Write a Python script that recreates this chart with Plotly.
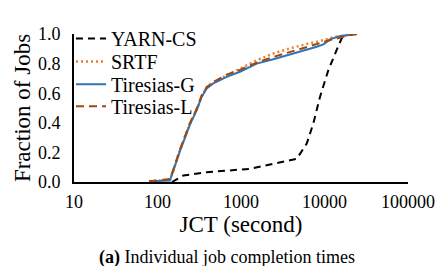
import plotly.graph_objects as go

# ---- data ----
yarn_x = [149, 204, 388, 1282, 2438, 4645, 6124, 7345, 8830, 11120, 14000, 16070, 17600]
yarn_y = [0.0, 0.044, 0.066, 0.089, 0.123, 0.157, 0.259, 0.395, 0.575, 0.756, 0.892, 0.971, 0.995]

srtf_x = [79, 141, 155, 186, 245, 295, 338, 388, 466, 674, 973, 1541, 2438, 3864, 6124, 9690, 13000, 17000, 24300]
srtf_y = [0.005, 0.015, 0.08, 0.215, 0.395, 0.49, 0.58, 0.64, 0.675, 0.722, 0.765, 0.822, 0.868, 0.903, 0.932, 0.958, 0.98, 0.99, 1.0]

tg_x = [88, 141, 155, 186, 245, 295, 338, 388, 466, 674, 973, 1541, 2438, 3864, 5094, 8070, 9690, 11640, 15350, 24300]
tg_y = [0.005, 0.01, 0.078, 0.21, 0.39, 0.485, 0.575, 0.632, 0.666, 0.71, 0.745, 0.80, 0.83, 0.862, 0.88, 0.914, 0.93, 0.964, 0.986, 1.0]

tl_x = [79, 100, 141, 155, 186, 245, 295, 338, 388, 466, 674, 973, 1541, 2438, 3864, 6124, 9690, 12500, 15350, 19000, 24300]
tl_y = [0.005, 0.01, 0.02, 0.085, 0.22, 0.40, 0.495, 0.585, 0.64, 0.675, 0.725, 0.758, 0.806, 0.845, 0.88, 0.914, 0.948, 0.964, 0.975, 0.99, 1.0]

x_ticks = [10, 100, 1000, 10000, 100000]
x_tick_labels = ["10", "100", "1000", "10000", "100000"]
y_ticks = [0, 0.2, 0.4, 0.6, 0.8, 1.0]
y_tick_labels = ["0.0", "0.2", "0.4", "0.6", "0.8", "1.0"]

FONT = "Liberation Serif, Times New Roman, serif"

fig = go.Figure()
fig.add_trace(go.Scatter(x=yarn_x, y=yarn_y, mode="lines", name="YARN-CS", legend="legend",
                         line=dict(color="black", width=2, dash="7px,5px")))
fig.add_trace(go.Scatter(x=srtf_x, y=srtf_y, mode="lines", name="SRTF", legend="legend2",
                         line=dict(color="#ED7D31", width=2.5, dash="2px,3px")))
fig.add_trace(go.Scatter(x=tg_x, y=tg_y, mode="lines", name="Tiresias-G", legend="legend3",
                         line=dict(color="#2E75B6", width=2)))
fig.add_trace(go.Scatter(x=tl_x, y=tl_y, mode="lines", name="Tiresias-L", legend="legend4",
                         line=dict(color="#9E480E", width=2, dash="8px,5px")))


def leg(ypos):
    return dict(x=-0.009, y=ypos, xanchor="left", yanchor="middle",
                font=dict(family=FONT, size=20, color="black"),
                bgcolor="rgba(0,0,0,0)", itemwidth=30, borderwidth=0)


fig.update_layout(
    width=438, height=266,
    margin=dict(l=74, r=30, t=34, b=84, autoexpand=False),
    plot_bgcolor="white", paper_bgcolor="white",
    font=dict(family=FONT, color="black", size=18),
    showlegend=True,
    legend=leg(0.97), legend2=leg(0.815), legend3=leg(0.66), legend4=leg(0.512),
    xaxis=dict(type="log", range=[1, 5], tickvals=x_ticks, ticktext=x_tick_labels,
               showline=True, linecolor="black", linewidth=2, ticks="",
               showgrid=False, zeroline=False, ticklabelstandoff=2, automargin=False,
               tickfont=dict(family=FONT, size=18, color="black"),
               title=dict(text="JCT (second)", font=dict(family=FONT, size=23, color="black"),
                          standoff=0)),
    yaxis=dict(range=[0, 1], tickvals=y_ticks, ticktext=y_tick_labels,
               showline=True, linecolor="black", linewidth=2, ticks="",
               showgrid=False, zeroline=False, ticklabelstandoff=8, automargin=False,
               tickfont=dict(family=FONT, size=18, color="black"),
               title=dict(text="Fraction of Jobs", font=dict(family=FONT, size=23, color="black"),
                          standoff=1)),
    annotations=[dict(text="<b>(a)</b> Individual job completion times",
                      xref="paper", yref="paper", x=0.457, y=-0.51,
                      xanchor="center", yanchor="middle", showarrow=False,
                      font=dict(family=FONT, size=18, color="black"))],
)

fig.write_html("out.html", config={"displayModeBar": False},
               post_script="document.body.style.margin='0';document.body.style.padding='0';")
